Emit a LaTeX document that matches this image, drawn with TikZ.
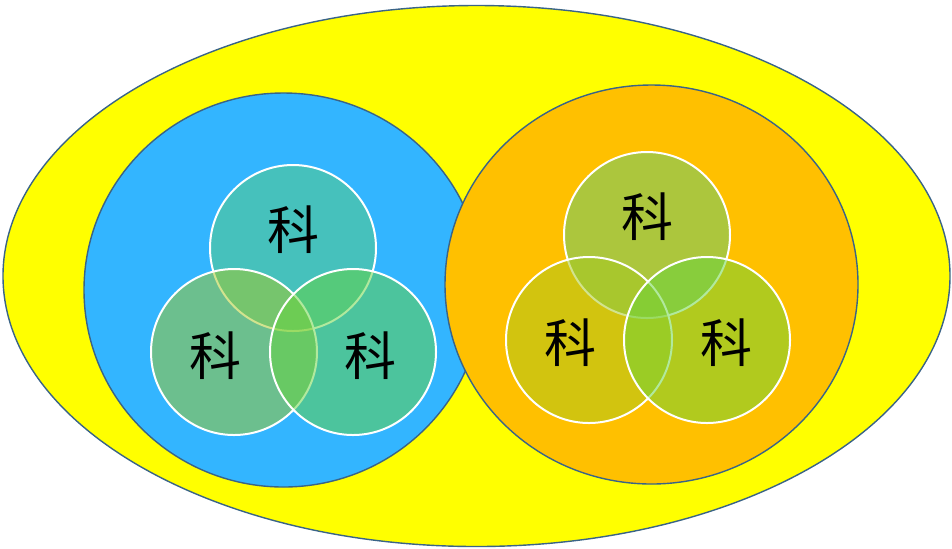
\documentclass[tikz,border=0pt]{standalone}
\usepackage{fontspec}
\newfontfamily\cjk{Noto Sans CJK SC}
\usetikzlibrary{shapes.geometric}
\definecolor{yellowbg}{RGB}{255,255,0}
\definecolor{bluebg}{RGB}{51,181,255}
\definecolor{orangebg}{RGB}{255,192,0}
\definecolor{edgeblue}{RGB}{58,100,135}
\definecolor{topc}{RGB}{90,205,122}
\definecolor{leftc}{RGB}{166,201,31}
\definecolor{rightc}{RGB}{101,212,60}
\begin{document}
\begin{tikzpicture}[x=0.5pt,y=-0.5pt,
  set/.style={ellipse,draw=edgeblue,line width=0.7pt,inner sep=0pt,outer sep=0pt},
  subset/.style={circle,draw=white,line width=1pt,fill opacity=0.5,minimum size=83pt,inner sep=0pt,outer sep=0pt},
  word/.style={font=\cjk\fontsize{26}{30}\selectfont,inner sep=0pt}]
   \useasboundingbox (0,0) rectangle (952,548);
   % 外側の楕円
   \node[set,fill=yellowbg,minimum width=473.5pt,minimum height=270.5pt] (whole) at (476.5,276) {};

   % 左の集合
   \node[set,fill=bluebg,minimum width=199.5pt,minimum height=197pt] (blueset) at (283.5,290) {};
   \node[subset,fill=topc]   (ltop)   at (293,248) {};
   \node[subset,fill=leftc]  (lleft)  at (234,352) {};
   \node[subset,fill=rightc] (lright) at (353,352) {};
   \node[word] (ltopw)   at (293,230) {科};
   \node[word] (lleftw)  at (215,356) {科};
   \node[word] (lrightw) at (370,356) {科};

   % 右の集合
   \node[set,fill=orangebg,minimum width=206.5pt,minimum height=199.5pt] (orangeset) at (651.5,284.5) {};
   \node[subset,fill=topc]   (rtop)   at (647,235) {};
   \node[subset,fill=leftc]  (rleft)  at (589,340) {};
   \node[subset,fill=rightc] (rright) at (707,340) {};
   \node[word] (rtopw)   at (647,217) {科};
   \node[word] (rleftw)  at (570,343) {科};
   \node[word] (rrightw) at (726,343) {科};
\end{tikzpicture}
\end{document}
